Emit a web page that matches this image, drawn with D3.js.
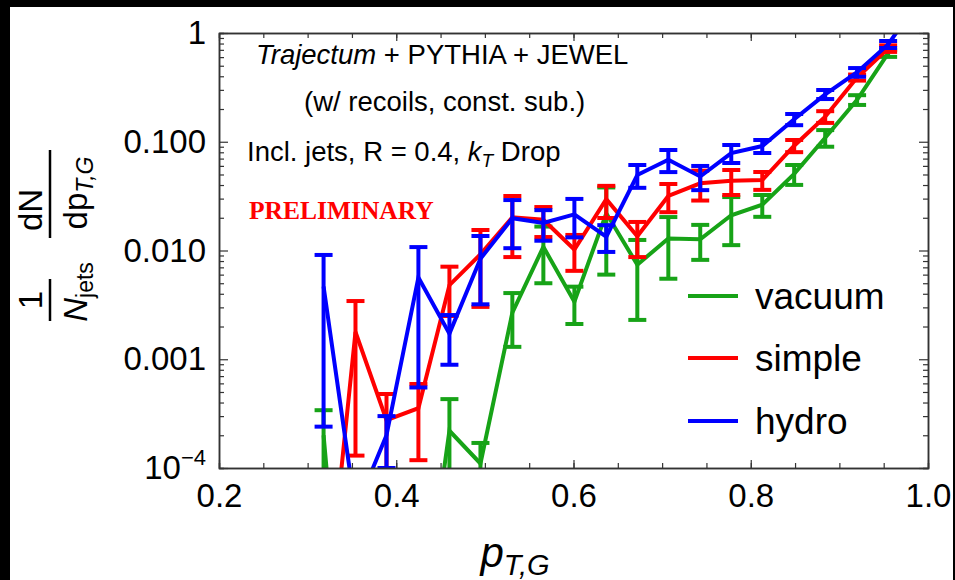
<!DOCTYPE html>
<html>
<head>
<meta charset="utf-8">
<script src="https://cdn.jsdelivr.net/npm/d3@7"></script>
<style>
body { margin: 0; background: #000; }
svg { display: block; font-family: "Liberation Sans", Arial, sans-serif; }
</style>
</head>
<body>
<svg id="chart" width="955" height="580"></svg>
<script>
// bin centres in p_T,G
var pT = [0.318, 0.354, 0.389, 0.425, 0.460, 0.495, 0.531, 0.566, 0.601, 0.637,
          0.672, 0.707, 0.743, 0.778, 0.813, 0.849, 0.884, 0.920, 0.955, 0.990];

// values (tiny ones lie below the 1e-4 floor)
var vacuum    = [0.0002, 1e-7, 1e-7, 2e-6, 0.00022, 0.00011, 0.00268, 0.0108, 0.00338, 0.022,
                 0.0074, 0.0129, 0.0127, 0.0211, 0.0264, 0.0506, 0.109, 0.243, 0.65];
var vacuumErr = [0.00014, 0, 0, 0, 0.00021, 0.00006, 0.00138, 0.0058, 0.00127, 0.016,
                 0.0051, 0.0074, 0.0045, 0.0099, 0.006, 0.0105, 0.019, 0.025, 0.047];

var simple    = [2.5e-6, 0.00178, 0.000276, 0.000355, 0.0048, 0.00923, 0.0202, 0.0192, 0.0102, 0.0296,
                 0.0135, 0.0317, 0.0415, 0.0437, 0.0444, 0.092, 0.17, 0.39, 0.72];
var simpleErr = [0, 0.00165, 0.000203, 0.000237, 0.0023, 0.0062, 0.0115, 0.0059, 0.0037, 0.0097,
                 0.0048, 0.0092, 0.0127, 0.0113, 0.0083, 0.0118, 0.021, 0.025, 0.05];

var hydro     = [0.00467, 4.1e-5, 0.0002, 0.00565, 0.00172, 0.0084, 0.0198, 0.0179, 0.0215, 0.0134,
                 0.0494, 0.0683, 0.0479, 0.0786, 0.0913, 0.161, 0.273, 0.436, 0.786, 2.0];
var hydroErr  = [0.00443, 0.00002, 0.0001, 0.0051, 0.00083, 0.0052, 0.0093, 0.0056, 0.0083, 0.0037,
                 0.0117, 0.0157, 0.012, 0.0148, 0.0125, 0.019, 0.026, 0.04, 0.058, 0.2];

var seriesNames = ["vacuum", "simple", "hydro"];
var seriesColors = ["#17a317", "#ff0000", "#0000ff"];

var xTickValues = [0.2, 0.4, 0.6, 0.8, 1.0];
var xTickLabels = ["0.2", "0.4", "0.6", "0.8", "1.0"];
var yTickValues = [1, 0.1, 0.01, 0.001, 0.0001];
var yTickLabels = ["1", "0.100", "0.010", "0.001", "10^-4"];

var svg = d3.select("#chart");
var W = 955, H = 580;
var margin = {top: 33, right: 27, bottom: 112, left: 219};
var width = W - margin.left - margin.right,
    height = H - margin.top - margin.bottom;

// white page on black
svg.append("rect").attr("x", 10).attr("y", 7).attr("width", 943).attr("height", 573).attr("fill", "#fff");

var x = d3.scaleLinear().domain([0.2, 1.0]).range([0, width]);
var y = d3.scaleLog().domain([1e-4, 1]).range([height, 0]);

var g = svg.append("g").attr("transform", "translate(" + margin.left + "," + margin.top + ")");

g.append("clipPath").attr("id", "clip")
  .append("rect").attr("width", width).attr("height", height);

// series
var series = [
  {name: seriesNames[0], color: seriesColors[0], v: vacuum, e: vacuumErr},
  {name: seriesNames[1], color: seriesColors[1], v: simple, e: simpleErr},
  {name: seriesNames[2], color: seriesColors[2], v: hydro, e: hydroErr}
];

var plot = g.append("g").attr("clip-path", "url(#clip)");
var capW = 9;
var floorV = 1e-9;

series.forEach(function(s) {
  var pts = s.v.map(function(d, i) { return {x: pT[i], v: d, e: s.e[i]}; });
  var line = d3.line()
    .x(function(d) { return x(d.x); })
    .y(function(d) { return y(d.v); });

  var sg = plot.append("g").attr("stroke", s.color).attr("stroke-width", 4).attr("fill", "none");

  var bars = pts.filter(function(d) { return d.e > 0; });
  bars.forEach(function(d) {
    var lo = Math.max(d.v - d.e, floorV), hi = d.v + d.e;
    sg.append("line")
      .attr("x1", x(d.x)).attr("x2", x(d.x))
      .attr("y1", y(lo)).attr("y2", y(hi));
    sg.append("line")
      .attr("x1", x(d.x) - capW).attr("x2", x(d.x) + capW)
      .attr("y1", y(hi)).attr("y2", y(hi));
    if (d.v - d.e > 0) {
      sg.append("line")
        .attr("x1", x(d.x) - capW).attr("x2", x(d.x) + capW)
        .attr("y1", y(lo)).attr("y2", y(lo));
    }
  });

  sg.append("path").datum(pts)
    .attr("stroke-linejoin", "miter")
    .attr("d", line);
});

// axes
var frameColor = "#333";
var majorY = yTickValues;
var minorY = y.ticks().filter(function(t) { return majorY.indexOf(t) < 0 && t >= 1e-4 && t <= 1; });
var minorX = d3.range(0.25, 1.0, 0.05);

var yAxis = g.append("g").attr("class", "y axis")
  .call(d3.axisLeft(y).tickValues(majorY).tickSizeInner(-9).tickSizeOuter(0).tickPadding(13)
        .tickFormat(function(d, i) { return yTickLabels[i]; }));
g.append("g").call(d3.axisLeft(y).tickValues(minorY).tickSize(-5).tickFormat(""));
g.append("g").attr("transform", "translate(" + width + ",0)")
  .call(d3.axisRight(y).tickValues(majorY).tickSizeInner(-9).tickSizeOuter(0).tickFormat(""));
g.append("g").attr("transform", "translate(" + width + ",0)")
  .call(d3.axisRight(y).tickValues(minorY).tickSize(-5).tickFormat(""));

var xAxis = g.append("g").attr("class", "x axis")
  .attr("transform", "translate(0," + height + ")")
  .call(d3.axisBottom(x).tickValues(xTickValues).tickSizeInner(-8).tickSizeOuter(0).tickPadding(16)
        .tickFormat(function(d, i) { return xTickLabels[i]; }));
g.append("g").attr("transform", "translate(0," + height + ")")
  .call(d3.axisBottom(x).tickValues(minorX).tickSize(-5).tickFormat(""));
g.append("g")
  .call(d3.axisTop(x).tickValues(xTickValues).tickSizeInner(-8).tickSizeOuter(0).tickFormat(""));
g.append("g")
  .call(d3.axisTop(x).tickValues(minorX).tickSize(-5).tickFormat(""));

g.selectAll(".domain").attr("stroke", frameColor).attr("stroke-width", 1.5);
g.selectAll(".tick line").attr("stroke", frameColor).attr("stroke-width", 1.2);
g.selectAll(".tick text").style("font-family", "Liberation Sans, Arial, sans-serif")
  .style("font-size", "33px").attr("fill", "#000");

// 10^-4 label with superscript
yAxis.selectAll(".tick text").filter(function(d) { return d === 1e-4; })
  .text(null)
  .call(function(t) {
    t.append("tspan").text("10");
    t.append("tspan").style("font-size", "22px").attr("dy", -14).text("\u22124");
  });

// annotation
var note = svg.append("g").style("font-size", "27.5px").attr("fill", "#000");
var t1 = note.append("text").attr("x", 256).attr("y", 64);
t1.append("tspan").style("font-style", "italic").text("Trajectum");
t1.append("tspan").text(" + PYTHIA + JEWEL");
note.append("text").attr("x", 304).attr("y", 111).text("(w/ recoils, const. sub.)");
var t3 = note.append("text").attr("x", 247).attr("y", 161);
t3.append("tspan").text("Incl. jets, R = 0.4, ");
t3.append("tspan").style("font-style", "italic").text("k");
t3.append("tspan").style("font-style", "italic").style("font-size", "19px").attr("dy", 6).text("T");
t3.append("tspan").attr("dy", -6).text(" Drop");
svg.append("text").attr("x", 249).attr("y", 219)
  .style("font-family", "Liberation Serif, serif").style("font-weight", "bold")
  .style("font-size", "25.5px").attr("fill", "#ff0000").text("PRELIMINARY");

// legend
var legendY = [296, 358, 421];
var legend = svg.append("g");
series.forEach(function(s, i) {
  legend.append("line").attr("x1", 688).attr("x2", 738)
    .attr("y1", legendY[i]).attr("y2", legendY[i])
    .attr("stroke", s.color).attr("stroke-width", 4);
  legend.append("text").attr("x", 755).attr("y", legendY[i]).attr("dy", "0.36em")
    .style("font-size", "37px").attr("fill", "#000").text(s.name);
});

// x title
var xt = svg.append("text").attr("x", 515).attr("y", 567).attr("text-anchor", "middle")
  .style("font-size", "42px").attr("fill", "#000");
xt.append("tspan").style("font-style", "italic").text("p");
xt.append("tspan").style("font-style", "italic").style("font-size", "29px").attr("dy", 8).text("T,G");

// y title: 1/N_jets dN/dp_T,G
var yt = svg.append("g").attr("transform", "rotate(-90)").attr("fill", "#000").style("font-size", "33px");
yt.append("text").attr("x", -300).attr("y", 42).attr("text-anchor", "middle").text("1");
yt.append("line").attr("x1", -321).attr("x2", -279).attr("y1", 50).attr("y2", 50)
  .attr("stroke", "#000").attr("stroke-width", 2.5);
var den1 = yt.append("text").attr("x", -292).attr("y", 87).attr("text-anchor", "middle");
den1.append("tspan").style("font-style", "italic").text("N");
den1.append("tspan").style("font-size", "23px").attr("dy", 6).text("jets");

yt.append("text").attr("x", -210).attr("y", 42).attr("text-anchor", "middle").text("dN");
yt.append("line").attr("x1", -238).attr("x2", -150).attr("y1", 50).attr("y2", 50)
  .attr("stroke", "#000").attr("stroke-width", 2.5);
var den2 = yt.append("text").attr("x", -193).attr("y", 87).attr("text-anchor", "middle");
den2.append("tspan").text("dp");
den2.append("tspan").style("font-style", "italic").style("font-size", "23px").attr("dy", 6).text("T,G");
</script>
</body>
</html>
